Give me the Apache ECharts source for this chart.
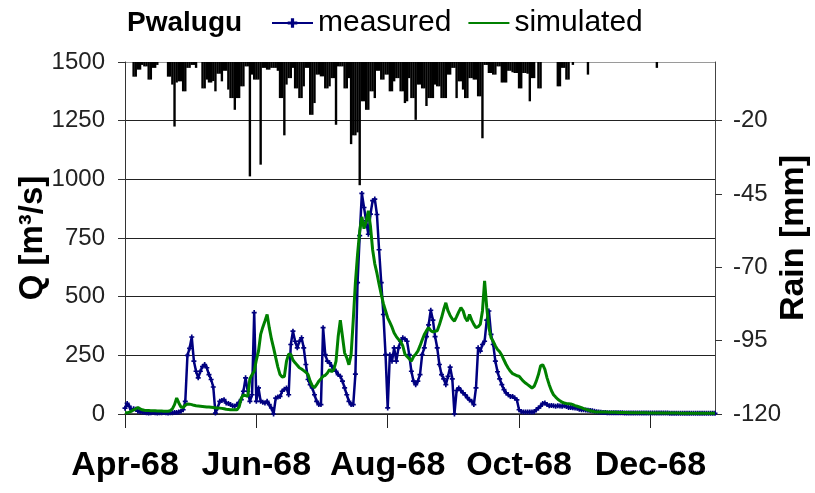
<!DOCTYPE html>
<html>
<head>
<meta charset="utf-8">
<script src="https://cdn.jsdelivr.net/npm/echarts@6/dist/echarts.min.js"></script>
<style>
html,body{margin:0;padding:0;background:#fff;}
#chart{width:815px;height:493px;}
</style>
</head>
<body>
<div id="chart"></div>
<script>
// Daily series, 1 Apr 1968 .. 31 Dec 1968 (275 days)
const startDate = '1968-04-01';
const measured = [
25,45,33,18,22,20,12,10,8,6,
5,4,5,6,5,4,5,5,6,5,
4,5,5,6,6,8,12,18,54,250,
280,328,225,182,154,182,202,211,197,168,
147,115,4,26,54,58,61,47,45,40,
35,33,40,50,61,97,154,97,54,82,
432,54,111,54,50,47,54,40,26,0,
68,72,75,97,105,111,82,296,353,310,
282,310,325,282,211,147,125,111,82,54,
40,40,368,253,225,218,204,190,182,168,
161,140,111,82,54,40,40,170,560,760,
940,880,823,766,852,909,916,850,700,560,
424,253,26,253,225,282,225,282,310,325,
320,310,253,182,140,125,140,168,253,282,
330,380,442,400,330,282,211,168,150,125,
160,200,150,0,100,111,100,90,82,70,
60,54,40,111,282,268,296,310,400,439,
339,296,225,180,150,125,104,90,82,75,
75,68,60,18,11,8,8,8,8,8,
10,18,26,33,45,47,40,35,36,35,
33,35,34,33,35,32,28,28,27,26,
25,20,18,18,17,16,15,14,12,10,
8,7,6,6,5,5,5,5,5,5,
5,5,4,4,4,4,4,4,4,4,
4,4,4,4,4,4,4,4,4,4,
4,4,4,3,3,3,3,3,3,3,
3,3,3,3,3,3,3,3,3,3,
3,3,3,3,3
];
const simulated = [
5,5,8,12,18,22,28,22,18,16,
15,15,14,14,14,13,13,13,12,12,
12,14,22,40,68,47,30,28,37,43,
42,40,37,35,34,33,32,31,30,30,
29,28,26,26,25,24,22,20,19,18,
18,18,18,30,68,82,78,75,150,168,
182,230,268,339,370,396,424,368,320,282,
240,200,168,158,160,225,255,255,230,218,
208,197,192,185,178,168,140,120,112,125,
140,150,161,165,175,190,180,190,225,330,
400,330,260,239,210,253,400,560,680,780,
840,790,820,866,800,700,640,600,553,510,
470,440,410,390,370,345,330,318,310,290,
255,245,235,225,245,255,268,290,315,339,
355,368,355,350,353,355,380,410,445,474,
440,420,405,396,415,435,453,440,410,396,
424,400,382,368,372,382,439,567,453,368,
325,310,290,275,265,250,230,211,195,182,
172,168,163,161,150,140,132,125,118,111,
118,140,168,205,210,190,154,125,100,82,
72,63,56,50,47,45,44,43,40,36,
33,30,27,23,20,17,14,12,10,9,
9,9,8,8,8,7,7,7,7,6,
6,6,6,6,5,5,5,5,5,5,
5,5,5,4,4,4,4,4,4,4,
4,4,4,4,4,4,4,4,3,3,
3,3,3,3,3,3,3,3,3,3,
3,3,3,3,3
];
const rain = [
0,0,0,0,5,5,2.6,2.6,1,1.5,
1.5,6,6,2,2,1,0,0,0,0,
5,5,7.7,22,7,6.6,6.6,10,10,2,
2,1,1,2,0,0,9,9,6,7,
7,6.5,10,4,4,6.6,3,3,9.4,12.3,
12.3,16.3,12.3,12.3,8.3,8.3,1.5,1.5,39,4.3,
6,6,6,35,2,2,2.6,2.6,2,2,
2,3,12.3,12.3,25,7.7,5.5,5.5,2,9,
9,12.3,12.3,8.3,2,2,18,18,14,4.3,
4.3,4.9,4.9,9,9,8.3,5.5,5.5,21.4,1.5,
1.5,1.5,9,9,5.5,28,25,25,24,42,
13.4,13.4,16.3,16.3,10,10,12.3,3,3,6,
6,4.3,4.3,10,10,6.6,5.5,5.5,10,10,
14,13.4,5.5,12.3,12.3,19.7,7.7,7.7,9,9,
15,12.3,12.3,12.3,7.7,8.3,8.3,12.3,12.3,12.3,
4.3,4.3,2,2,12.3,6.6,6.6,9.4,12.3,12.3,
5.5,5.5,6,6,11.7,11.7,26,1,1,3.75,
3.75,4.3,4.3,1.5,1.5,7,7,7,3,3,
3.5,3.75,3.75,9,9,3.75,3.75,4,13.4,5.5,
5.5,0,9,9,0,0,0,0,0,0,
0,8.3,8.3,2,2,6,6,0,1,0,
0,0,0,0,0,4.3,0,0,0,0,
0,0,0,0,0,0,0,0,0,0,
0,0,0,0,0,0,0,0,0,0,
0,0,0,0,0,0,0,2,0,0,
0,0,0,0,0,0,0,0,0,0,
0,0,0,0,0,0,0,0,0,0,
0,0,0,0,0
];
const tickDates = ['1968-04-01','1968-06-01','1968-08-01','1968-10-01','1968-12-01'];
const tickLabels = ['Apr-68','Jun-68','Aug-68','Oct-68','Dec-68'];
const qTicks = {min: 0, max: 1500, step: 250};
const rainTicks = {min: -120, max: 0, step: 25};

// categories: one per day
const t0 = Date.parse(startDate + 'T00:00:00Z');
const days = measured.map((_, i) => new Date(t0 + i * 86400000).toISOString().slice(0, 10));

const FONT = '"Liberation Sans", Arial, sans-serif';
const plusPath = 'path://M2,0h2v2h2v2h-2v2h-2v-2h-2v-2h2z';
// invisible legend marker for the simulated line (bounding box padded by empty sub-paths)
const noMarker = 'path://M0,0L0,0M5,5h0.01v0.01h-0.01zM10,10L10,10';
const isTick = (i, v) => tickDates.indexOf(v) >= 0;

const chart = echarts.init(document.getElementById('chart'), null, {renderer: 'canvas'});
chart.setOption({
  animation: false,
  backgroundColor: '#fff',
  textStyle: {fontFamily: FONT},
  title: {
    text: 'Pwalugu', left: 122, top: 4,
    textStyle: {fontFamily: FONT, fontSize: 28, fontWeight: 'bold', color: '#000'}
  },
  legend: {
    left: 266, top: 3, itemWidth: 41, itemHeight: 12, itemGap: 16,
    data: ['measured', 'simulated'],
    textStyle: {fontFamily: FONT, fontSize: 30, color: '#000'}
  },
  grid: {left: 125, right: 100, top: 62, bottom: 79, containLabel: false, outerBoundsMode: 'none'},
  xAxis: {
    type: 'category', data: days, boundaryGap: false,
    axisLine: {lineStyle: {color: '#222', width: 1.5}},
    axisTick: {show: true, interval: isTick, length: 14, lineStyle: {color: '#222'}},
    axisLabel: {
      interval: isTick, margin: 35,
      formatter: v => tickLabels[tickDates.indexOf(v)] || '',
      fontFamily: FONT, fontSize: 34, fontWeight: 'bold', color: '#000'
    },
    splitLine: {show: false}
  },
  yAxis: [
    {
      type: 'value', min: qTicks.min, max: qTicks.max, interval: qTicks.step,
      name: 'Q [m³/s]', nameLocation: 'middle', nameGap: 76, nameRotate: 90, nameMoveOverlap: false,
      nameTextStyle: {fontFamily: FONT, fontSize: 33, fontWeight: 'bold', color: '#000'},
      axisLine: {show: true, lineStyle: {color: '#333'}},
      axisTick: {show: true, length: 7, lineStyle: {color: '#333'}},
      axisLabel: {margin: 20, fontFamily: FONT, fontSize: 24, color: '#222', formatter: v => String(v)},
      splitLine: {show: true, lineStyle: {color: ['#222','#222','#222','#222','#222','#222','#9a9a9a'], width: 1}}
    },
    {
      type: 'value', min: rainTicks.min, max: rainTicks.max, interval: rainTicks.step,
      position: 'right',
      name: 'Rain [mm]', nameLocation: 'middle', nameGap: 62, nameRotate: 90, nameMoveOverlap: false,
      nameTextStyle: {fontFamily: FONT, fontSize: 34, fontWeight: 'bold', color: '#000'},
      axisLine: {show: true, lineStyle: {color: '#444'}},
      axisTick: {show: true, length: 7, lineStyle: {color: '#333'}},
      axisLabel: {margin: 18, fontFamily: FONT, fontSize: 24, color: '#222', showMaxLabel: false, formatter: v => String(v)},
      splitLine: {show: false}
    }
  ],
  series: [
    {
      name: 'rain', type: 'bar', yAxisIndex: 1, data: rain.map(v => -v),
      barWidth: 2.4, itemStyle: {color: '#000'}, z: 1
    },
    {
      name: 'measured', type: 'line', data: measured,
      symbol: plusPath, symbolSize: 5, showSymbol: true, showAllSymbol: true,
      itemStyle: {color: '#000080'},
      lineStyle: {color: '#000080', width: 2.5}, z: 3
    },
    {
      name: 'simulated', type: 'line', data: simulated,
      symbol: noMarker, showSymbol: false, itemStyle: {color: '#008000'},
      lineStyle: {color: '#008000', width: 3}, z: 4
    }
  ]
});
</script>
</body>
</html>
